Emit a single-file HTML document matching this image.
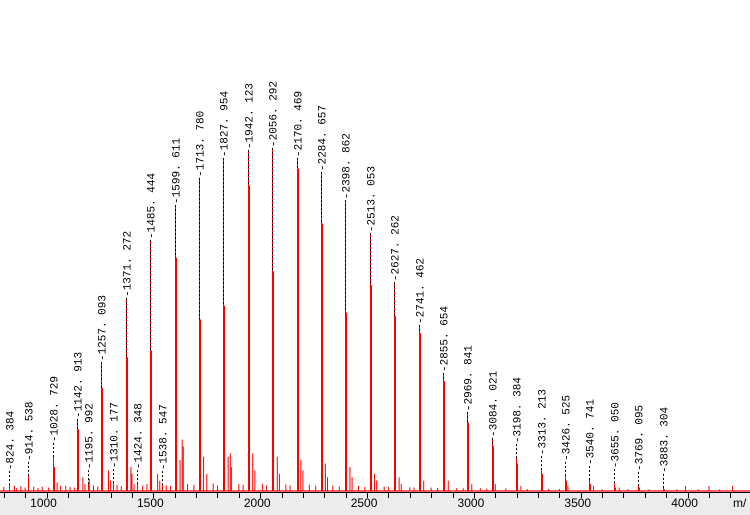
<!DOCTYPE html>
<html><head><meta charset="utf-8"><style>
html,body{margin:0;padding:0;background:#fff}
svg{display:block}
text{font-family:"Liberation Mono",monospace;font-size:11px;fill:#000}
</style></head><body>
<svg id="chart" width="750" height="515" xmlns="http://www.w3.org/2000/svg">
<rect x="0" y="492" width="750" height="23" fill="#ececec"/>
<g id="peaks"></g><g id="labels"></g><g id="axis"></g>
</svg>
<script>
const peakMasses=[824.384,914.538,1028.729,1142.913,1195.992,1257.093,1310.177,1371.272,1424.348,1485.444,1538.547,1599.611,1713.780,1827.954,1942.123,2056.292,2170.469,2284.657,2398.862,2513.053,2627.262,2741.462,2855.654,2969.841,3084.021,3198.384,3313.213,3426.525,3540.741,3655.050,3769.095,3883.304];
const peakLabels=["824.384","914.538","1028.729","1142.913","1195.992","1257.093","1310.177","1371.272","1424.348","1485.444","1538.547","1599.611","1713.780","1827.954","1942.123","2056.292","2170.469","2284.657","2398.862","2513.053","2627.262","2741.462","2855.654","2969.841","3084.021","3198.384","3313.213","3426.525","3540.741","3655.050","3769.095","3883.304"];
const peakIntensity=[1.7,4.4,9.9,21,2,37.6,2.3,56.3,2,73.2,1.7,83.4,91.3,97.1,99.4,100,97.1,93,84.8,75.2,60.9,48.4,34.4,23,15.5,9.6,6.1,4.4,3.2,2.3,1.5,0.9];
const satelliteIntensity=[0,0,7,18,0,30,0,39,0,41,0,68,50,54,89,64,94,78,52,60,51,46,32,20,13,8,5,3,2,1,1,0.5];
const minorMasses=[850,1050,1065,1170,1180,1200,1290,1300,1395,1400,1410,1520,1530,1625,1635,1640,1735,1750,1850,1860,1865,1965,1975,2080,2090,2190,2200,2305,2315,2420,2430,2535,2545,2650,2660,2765,2880,2990,3100,3220,3440,3560,3680,3990,4100,4210];
const minorIntensity=[1.5,2.5,1.5,4,2,3.5,6,3,7,5,2,5,3,9,15,13,10,5,10,11,7,11,6,10,5,9,6,8,4,7,4,5,3,4,2,3,3,2,2,1.5,1.5,1.5,1,1.5,1.5,1.5];
const noiseMasses=[780,800,860,880,900,940,960,980,1010,1090,1110,1130,1220,1240,1330,1350,1450,1470,1560,1580,1660,1690,1780,1800,1900,1920,2010,2030,2120,2140,2230,2260,2340,2370,2460,2490,2580,2600,2700,2720,2800,2830,2920,2950,3030,3060,3150,3250,3350,3400,3600,3720,3820,3950,4050,4150];
const noiseIntensity=[1,1.2,0.8,1.4,1,1.2,0.9,1.3,1,1.5,1.2,1,1.6,1.3,1.8,1.4,1.6,2,1.7,1.5,2,1.8,2.2,1.6,2,1.8,2.1,1.7,1.9,1.6,1.8,1.5,1.6,1.3,1.5,1.2,1.3,1.2,1.1,1,1,0.9,0.9,0.8,0.8,0.7,0.7,0.6,0.6,0.6,0.5,0.5,0.5,0.5,0.5,0.5];
const tickValues=[800,900,1000,1100,1200,1300,1400,1500,1600,1700,1800,1900,2000,2100,2200,2300,2400,2500,2600,2700,2800,2900,3000,3100,3200,3300,3400,3500,3600,3700,3800,3900,4000,4100,4200,4300];
const tickLabels=["1000","1500","2000","2500","3000","3500","4000"];

const NS="http://www.w3.org/2000/svg";
const xs=m=>46.5+(m-1000)*0.2137;
const BASE=491;
const ys=v=>BASE-v*3.43;
function mk(tag,attrs,parent){const e=document.createElementNS(NS,tag);for(const k in attrs)e.setAttribute(k,attrs[k]);parent.appendChild(e);return e;}
const gp=document.getElementById('peaks'),gl=document.getElementById('labels'),ga=document.getElementById('axis');

// baseline
let bl=mk('line',{x1:0,x2:750,y1:BASE,y2:BASE,stroke:'#ff0000','stroke-width':1.2},gp);



noiseMasses.forEach((m,i)=>{
  const l=mk('line',{x1:xs(m),x2:xs(m),y1:BASE,y2:ys(noiseIntensity[i]),stroke:'#ff0000','stroke-width':1},gp);
  
  
});
minorMasses.forEach((m,i)=>{
  const l=mk('line',{x1:xs(m),x2:xs(m),y1:BASE,y2:ys(minorIntensity[i]),stroke:'#ff0000','stroke-width':1},gp);
  
  
});
peakMasses.forEach((m,i)=>{
  const x=Math.round(xs(m))+0.5;
  const top=ys(peakIntensity[i]);
  const l=mk('line',{x1:x,x2:x,y1:BASE,y2:top,stroke:'#ff0000','stroke-width':1},gp);
  
  
  if(satelliteIntensity[i]>0){
    const s=mk('line',{x1:x+0.5,x2:x+0.5,y1:BASE,y2:ys(satelliteIntensity[i]),stroke:'#ff0000','stroke-width':2},gp);
    
    
  }
  // leader
  const big=peakIntensity[i]>12;
  const lead=big?0:14;
  const labBottom=top-lead;
  const satTop=ys(satelliteIntensity[i]);
  const dEnd=big?Math.min(satTop,BASE):top;
  const d=mk('line',{x1:x,x2:x,y1:labBottom,y2:dEnd,stroke:'#000','stroke-width':1,'stroke-dasharray':'2,2'},gl);
  
  
  const t=mk('text',{x:0,y:0,transform:`translate(${x+4},${labBottom-1}) rotate(-90)`},gl);
  t.textContent='-'+peakLabels[i].replace('.','. ');
  
  
});

const ax=mk('line',{x1:0,x2:750,y1:492.5,y2:492.5,stroke:'#000','stroke-width':1},ga);


tickValues.forEach(v=>{
  const x=Math.round(xs(v))+0.5;
  const t=mk('line',{x1:x,x2:x,y1:492,y2:498,stroke:'#000','stroke-width':1},ga);
  
  
});
tickLabels.forEach(s=>{
  const t=mk('text',{x:xs(+s)-3,y:507,'text-anchor':'middle','font-family':'Liberation Sans, sans-serif'},ga);
  t.setAttribute('style','font-family:"Liberation Sans",sans-serif;font-size:12px');
  t.textContent=s;
  
  
});
const u=mk('text',{x:733,y:507},ga);
u.setAttribute('style','font-family:"Liberation Sans",sans-serif;font-size:12px');
u.textContent='m/';


</script>
</body></html>
